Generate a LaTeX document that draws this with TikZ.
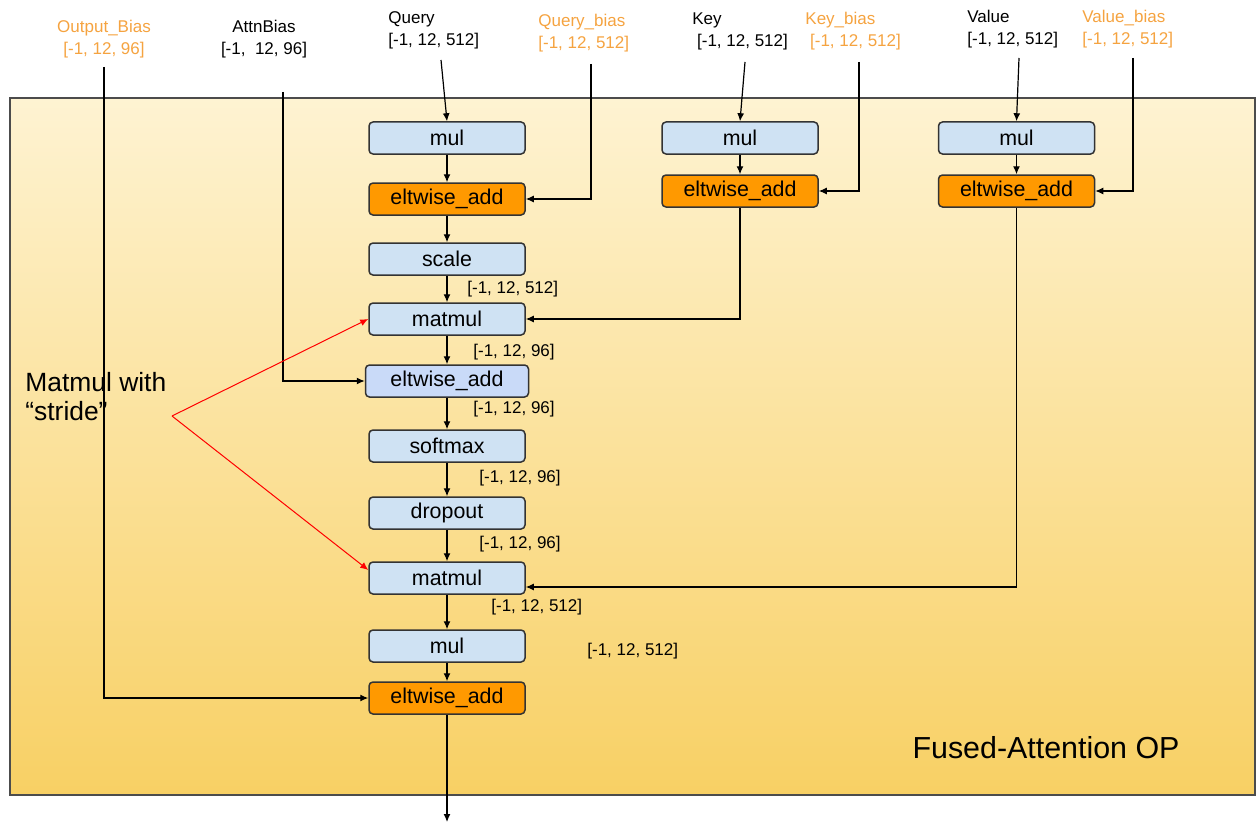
\documentclass[tikz,border=0pt]{standalone}
\usepackage{fontspec}
\setmainfont{Liberation Sans}
\usepackage{tikz}
\usetikzlibrary{positioning, arrows.meta}
\usepackage{xcolor}

\definecolor{opblue}{HTML}{CFE2F3}
\definecolor{opblue2}{HTML}{C9DAF8}
\definecolor{oporange}{HTML}{FF9900}
\definecolor{biasorange}{HTML}{F5A340}
\definecolor{fusedtop}{HTML}{FEF3D2}
\definecolor{fusedbot}{HTML}{F8D064}

\newcommand\opfont{\fontsize{10.7}{12}\selectfont}
\newcommand\dimfont{\fontsize{8.5}{11}\selectfont}

\tikzset{
	op/.style={draw=black!80, line width=0.75pt, rounded corners=2pt, fill=opblue,
		minimum width=78pt, minimum height=16pt, inner sep=0pt, font=\opfont},
	addop/.style={op, fill=oporange},
	dimlabel/.style={inner sep=0pt, font=\dimfont},
	inlabel/.style={dimlabel, align=left, anchor=west},
	biaslabel/.style={inlabel, text=biasorange},
	arr/.style={-{Latex[length=4pt,width=3.5pt]}, line width=0.6pt},
	stridearr/.style={arr, red, line width=0.5pt},
}

\begin{document}
\begin{tikzpicture}[x=0.5pt, y=-0.5pt, node distance=15pt]
		\useasboundingbox (0,0) rectangle (1257,824);
		\draw[draw=black!70, line width=0.6pt, top color=fusedtop, bottom color=fusedbot]
			(10,98) rectangle (1255,795);
		
		% inputs
		\node[dimlabel, align=center, text=biasorange] (obias) at (104,39) {Output\_Bias\\{}[-1, 12, 96]};
		\node[dimlabel, align=center]                  (abias) at (264,39) {AttnBias\\{}[-1, \ 12, 96]};
		\node[inlabel]    (query) at (388,30)  {Query\\{}[-1, 12, 512]};
		\node[biaslabel]  (qbias) at (538,33)  {Query\_bias\\{}[-1, 12, 512]};
		\node[inlabel]    (key)   at (692,31)  {Key\\{} [-1, 12, 512]};
		\node[biaslabel]  (kbias) at (805,31)  {Key\_bias\\{} [-1, 12, 512]};
		\node[inlabel]    (value) at (967,29)  {Value\\{}[-1, 12, 512]};
		\node[biaslabel]  (vbias) at (1082,29) {Value\_bias\\{}[-1, 12, 512]};
		
		\coordinate (obin) at (104,67);
		\coordinate (abin) at (283,92);
		\coordinate (qin)  at (441,60);
		\coordinate (qbin) at (591,64);
		\coordinate (kin)  at (745,62);
		\coordinate (kbin) at (859,62);
		\coordinate (vin)  at (1019,58);
		\coordinate (vbin) at (1133,58);
		
		% main column
		\node[op]                                (mul1)    at (447,138) {mul};
		\node[addop, below=13.75pt of mul1]      (eadd1)   {eltwise\_add};
		\node[op, below=13.25pt of eadd1]        (scale)   {scale};
		\node[op, below=13.25pt of scale]        (matmul1) {matmul};
		\node[op, fill=opblue2, minimum width=81.5pt, below=14.25pt of matmul1] (eadd2) {eltwise\_add};
		\node[op, below=15.75pt of eadd2]        (softmax) {softmax};
		\node[op, below=16.75pt of softmax]      (dropout) {dropout};
		\node[op, below=15.75pt of dropout]      (matmul2) {matmul};
		\node[op, below=17.25pt of matmul2]      (mul3)    {mul};
		\node[addop, below=9.25pt of mul3]       (eadd3)   {eltwise\_add};
		\coordinate (out) at (447,822);
		
		% key / value columns
		\node[op]                          (kmul) at (740,138) {mul};
		\node[addop, below=9.75pt of kmul] (kadd) {eltwise\_add};
		\node[op, right=59.5pt of kmul]    (vmul) {mul};
		\node[addop, below=9.75pt of vmul] (vadd) {eltwise\_add};
		
		% shapes
		\node[dimlabel, anchor=west] (d1) at (467,289) {[-1, 12, 512]};
		\node[dimlabel, anchor=west] (d2) at (473,352) {[-1, 12, 96]};
		\node[dimlabel, anchor=west] (d3) at (473,409) {[-1, 12, 96]};
		\node[dimlabel, anchor=west] (d4) at (479,478) {[-1, 12, 96]};
		\node[dimlabel, anchor=west] (d5) at (479,544) {[-1, 12, 96]};
		\node[dimlabel, anchor=west] (d6) at (491,607) {[-1, 12, 512]};
		\node[dimlabel, anchor=west] (d7) at (587,651) {[-1, 12, 512]};
		
		\node[align=left, anchor=west, inner sep=0pt, font=\fontsize{13.2}{14.5}\selectfont]
			(stride) at (25,397) {Matmul with\\“stride”};
		\coordinate (fork) at (172,416);
		\node[font=\fontsize{15.2}{18}\selectfont] (fused) at (1046,748) {Fused-Attention OP};
		
		\draw[arr] (qin) -- (mul1.north);
		\draw[arr] (mul1) -- (eadd1);
		\draw[arr] (eadd1) -- (scale);
		\draw[arr] (scale) -- (matmul1);
		\draw[arr] (matmul1) -- (eadd2.north -| matmul1);
		\draw[arr] (eadd2.south -| softmax) -- (softmax);
		\draw[arr] (softmax) -- (dropout);
		\draw[arr] (dropout) -- (matmul2);
		\draw[arr] (matmul2) -- (mul3);
		\draw[arr] (mul3) -- (eadd3);
		\draw[arr] (eadd3.south) -- (eadd3.south |- out);
		
		\draw[arr] (qbin) |- (eadd1.east);
		\draw[arr] (kin) -- (kmul.north);
		\draw[arr] (kmul) -- (kadd);
		\draw[arr] (kbin) |- (kadd.east);
		\draw[arr] (vin) -- (vmul.north);
		\draw[arr] (vmul) -- (vadd);
		\draw[arr] (vbin) |- (vadd.east);
		\draw[arr] (kadd.south) |- (matmul1.east);
		\draw[arr] (vadd.south) |- ([yshift=-4.5pt]matmul2.east);
		\draw[arr] (abin) |- (eadd2.west);
		\draw[arr] (obin) |- (eadd3.west);
		
		\draw[stridearr] (fork) -- (matmul1.west);
		\draw[stridearr] (fork) -- ([yshift=4pt]matmul2.west);
	\end{tikzpicture}
\end{document}
